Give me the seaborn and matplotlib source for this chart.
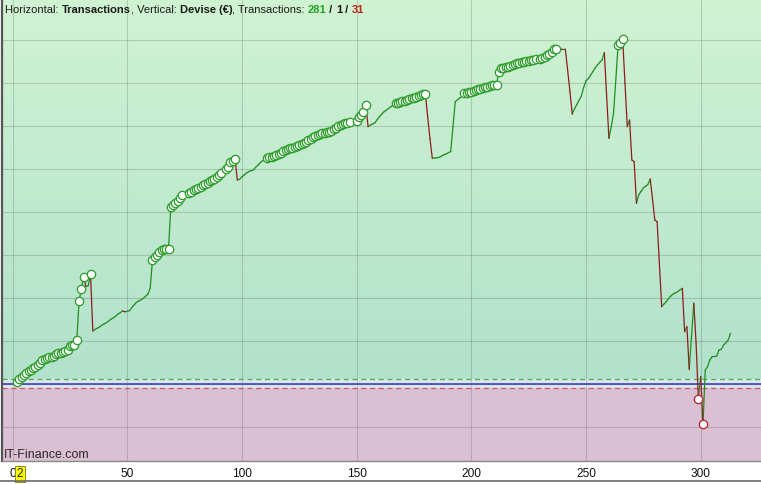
import numpy as np
import pandas as pd
import matplotlib
matplotlib.use("Agg")
import matplotlib.pyplot as plt
import matplotlib.transforms as mtransforms
from matplotlib.lines import Line2D
import seaborn as sns

sns.set_style("white")
plt.rcParams["font.family"] = ["Liberation Sans", "DejaVu Sans"]

#%% data: account balance (EUR) after each transaction
first_trade = 2
climb_start = [45, 115, 170, 210, 250, 295, 325, 365, 400, 450, 490, 560, 590, 610,
               620, 635, 660, 690, 710, 730, 750, 770, 785, 880, 900, 910, 1020]
spike_1 = [1940, 2200, 2495, 2265, 2285, 2550, 1235]
recover_1 = [1270, 1300, 1330, 1370, 1400, 1430, 1470, 1510, 1540, 1580, 1630, 1660,
             1700, 1680, 1690, 1705, 1780, 1840, 1900, 1930, 1960, 1993, 2040, 2090, 2226]
climb_2 = [2884, 2946, 3000, 3063, 3116, 3130, 3140, 3150,
           4123, 4163, 4202, 4263, 4318, 4395, 4356, 4390, 4434, 4473, 4512, 4535,
           4550, 4589, 4620, 4651, 4682, 4713, 4736, 4760, 4806, 4860, 4899, 4876,
           5000, 5054, 5155, 5194, 5233]
climb_3 = [4744, 4760, 4820, 4860, 4910, 4940, 4960, 4980, 5040, 5090, 5150, 5190, 5225,
           5250, 5270, 5287, 5302, 5326, 5349, 5380, 5410, 5442, 5473, 5481, 5496, 5519,
           5535, 5550, 5574, 5597, 5636, 5674, 5698, 5736, 5767, 5790, 5806, 5829, 5845,
           5853, 5868, 5891, 5922, 5961, 6008, 6031, 6039, 6062, 6078, 6085, 6075, 6070,
           6124, 6202, 6256, 6318, 6488]
climb_4 = [5984, 6023, 6047, 6077, 6150, 6217, 6280, 6333, 6370, 6411, 6450, 6480,
           6527, 6543, 6558, 6581, 6589, 6605, 6620, 6643, 6660, 6682, 6700, 6721,
           6735, 6744, 6200, 5700, 5248]
climb_5 = [5255, 5262, 5271, 5300, 5330, 5349, 5380, 5403, 5980, 6566, 6610, 6650, 6690,
           6760, 6775, 6790, 6800, 6822, 6837, 6853, 6868, 6884, 6899, 6915, 6930, 6946,
           6953, 6960,
           7264, 7341, 7357, 7365, 7380, 7395, 7419, 7442, 7457, 7473, 7481, 7488, 7500,
           7512, 7525, 7535, 7558, 7520, 7565, 7574, 7612, 7651, 7674, 7729, 7783, 7798,
           7790, 7785, 7780, 7783]
top_swings = [7300, 6800, 6279, 6400, 6500, 6600, 6700, 6900, 7050, 7100, 7180, 7264,
              7350, 7418, 7480, 7535, 7705, 6700, 5714, 5984, 6295, 7070, 7884, 7937, 8016]
crash = [7000, 5984, 6140, 5209, 5170, 4202, 4400, 4480, 4560, 4600, 4640, 4767, 4300,
         3814, 3775, 2800, 1798, 1860, 1914, 1990, 2047, 2093, 2120, 2147, 2190, 2225,
         1217, 1333, 341, 1100, 1876, 950, -345, 170, -930]
rebound = [326, 403, 560, 636, 640, 651, 791, 806, 907, 960, 1023, 1178]

n_won, n_even, n_lost = 281, 1, 31
xticks = [0, 50, 100, 150, 200, 250, 300]
cursor_trade = 2
band_hi, band_lo = 110, -100

equity = (climb_start + spike_1 + recover_1 + climb_2 + climb_3 + climb_4 + climb_5
          + top_swings + crash + rebound)
trades = np.arange(first_trade, first_trade + len(equity))

df = pd.DataFrame({"trade": trades, "equity": equity})
prev_max = df.equity.cummax().shift(1)
prev_min = df.equity.cummin().shift(1)
df["high"] = prev_max.isna() | (df.equity > prev_max)
df["low"] = df.equity < prev_min

# one short segment per step, coloured by direction
rows = []
for i in range(len(df) - 1):
    d = "up" if df.equity[i + 1] >= df.equity[i] else "down"
    rows.append((i, df.trade[i], df.equity[i], d))
    rows.append((i, df.trade[i + 1], df.equity[i + 1], d))
seg = pd.DataFrame(rows, columns=["seg", "trade", "equity", "dir"])

#%% figure
W, H = 761, 484
fig = plt.figure(figsize=(W / 100, H / 100), dpi=100)
ax = fig.add_axes([2 / W, 23 / H, 759 / W, 461 / H])
xmin, xmax = -4.6, 326.3
ymin, ymax = -1790, 8930

# background: green gradient, pale band, pink loss zone
yy = np.linspace(ymin, ymax, 800)
top_c = np.array([208, 243, 210]) / 255
bot_c = np.array([178, 225, 204]) / 255
t = np.clip((yy - band_hi) / (ymax - band_hi), 0, 1)
img = bot_c + t[:, None] * (top_c - bot_c)
img[yy < band_hi] = np.array([218, 230, 238]) / 255
img[yy < band_lo] = np.array([219, 192, 211]) / 255
ax.imshow(img[:, None, :], extent=[xmin, xmax, ymin, ymax], aspect="auto",
          origin="lower", interpolation="nearest", zorder=0)

ax.axhline(0, color="#3434b4", lw=1.1, zorder=2)
ax.axhline(band_hi, color="#45b045", lw=0.9, ls=(0, (4, 3)), zorder=2)
ax.axhline(band_lo, color="#cc5668", lw=0.9, ls=(0, (4, 3)), zorder=2)

sns.lineplot(data=seg, x="trade", y="equity", units="seg", hue="dir",
             estimator=None, sort=False, legend=False, lw=0.9, ax=ax, zorder=3,
             palette={"up": "#1f8f1f", "down": "#8e1d1d"})
sns.scatterplot(data=df[df.high], x="trade", y="equity", s=36, color="white",
                edgecolor="#2e9e2e", linewidth=0.95, ax=ax, zorder=4)
sns.scatterplot(data=df[df.low], x="trade", y="equity", s=36, color="white",
                edgecolor="#b52830", linewidth=0.95, ax=ax, zorder=4)

ax.set_xlim(xmin, xmax)
ax.set_ylim(ymin, ymax)
ax.set_xticks(xticks)
ax.set_yticks(range(-1000, 9000, 1000))
ax.set_yticklabels([])
ax.set_xlabel("")
ax.set_ylabel("")
ax.grid(True, color="black", alpha=0.15, lw=0.8)
ax.set_axisbelow("line")
ax.tick_params(axis="both", length=0)
ax.tick_params(axis="x", pad=5, labelsize=8.6, labelcolor="#111111")
for s in ["top", "right"]:
    ax.spines[s].set_visible(False)
ax.spines["left"].set_color("#555555")
ax.spines["left"].set_linewidth(1.6)
ax.spines["bottom"].set_color("#8a8a8a")
ax.spines["bottom"].set_linewidth(1.0)

# yellow cursor label on the x axis
trans = mtransforms.blended_transform_factory(ax.transData, ax.transAxes)
ax.text(cursor_trade + 1.3, -0.0155, str(cursor_trade), transform=trans, ha="center",
        va="top", fontsize=8.6, clip_on=False, zorder=6,
        bbox=dict(boxstyle="square,pad=0.15", fc="#ffff00", ec="#8a8a20", lw=0.7))

# header line with mixed weights and colours
dark = "#1a1a1a"
tokens = [("Horizontal: ", "normal", dark), ("Transactions", "bold", dark),
          (", Vertical: ", "normal", dark), ("Devise (€)", "bold", dark),
          (", Transactions: ", "normal", dark), (str(n_won), "bold", "#25a025"),
          (" / ", "bold", dark), (str(n_even), "bold", dark),
          (" / ", "bold", dark), (str(n_lost), "bold", "#c0201a")]
r = fig.canvas.get_renderer()
fs = 8.0


def advance(s, weight):
    # width of s including side bearings and spaces
    a = fig.text(0, 0, "|" + s + "|", fontsize=fs, fontweight=weight)
    b = fig.text(0, 0, "||", fontsize=fs, fontweight=weight)
    w = a.get_window_extent(r).width - b.get_window_extent(r).width
    a.remove()
    b.remove()
    return w


x0 = 5
for s, w, c in tokens:
    fig.text(x0 / W, 1 - 13 / H, s, fontsize=fs, fontweight=w, color=c, va="baseline")
    x0 += advance(s, w)

fig.text(4 / W, 1 - 458 / H, "IT-Finance.com", fontsize=9, color="#2a2a2a", va="baseline")
fig.add_artist(Line2D([0, 1], [3.5 / H, 3.5 / H], color="#6a6a6a", lw=1.2))

fig.savefig("out.png", dpi=100)
